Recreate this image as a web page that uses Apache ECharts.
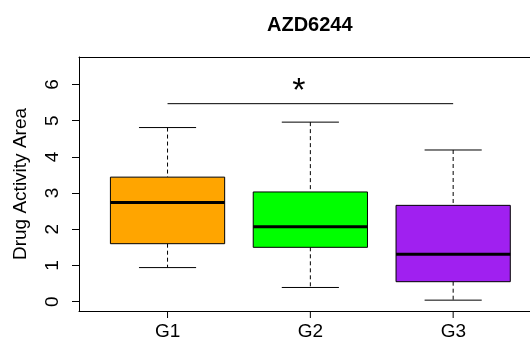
<!DOCTYPE html>
<html>
<head>
<meta charset="utf-8">
<script src="https://cdn.jsdelivr.net/npm/echarts@6/dist/echarts.min.js"></script>
<style>
html,body{margin:0;padding:0;background:#fff;}
#chart{width:530px;height:342px;}
</style>
</head>
<body>
<div id="chart"></div>
<script>
// ---- data ----
const categories = ['G1', 'G2', 'G3'];
const whiskerLow = [0.94, 0.39, 0.04];
const q1Values = [1.60, 1.50, 0.55];
const medianValues = [2.74, 2.07, 1.31];
const q3Values = [3.44, 3.03, 2.66];
const whiskerHigh = [4.81, 4.96, 4.19];
const boxColors = ['#FFA500', '#00FF00', '#A020F0'];
const yTicks = [0, 1, 2, 3, 4, 5, 6];
const sigFrom = 1, sigTo = 3, sigY = 5.47, sigStarX = 1.92, sigStarY = 5.81, sigLabel = '*';
const chartTitle = 'AZD6244';
const yName = 'Drug Activity Area';

const FONT = 'Liberation Sans, Arial, Helvetica, sans-serif';

const boxData = categories.map((c, i) => [i + 1, whiskerLow[i], q1Values[i], medianValues[i], q3Values[i], whiskerHigh[i]]);

function renderBox(params, api) {
  const i = params.dataIndex;
  const x = api.value(0);
  const half = 0.4, capHalf = 0.2;
  const pLow = api.coord([x, api.value(1)]);
  const pQ1 = api.coord([x, api.value(2)]);
  const pQ3 = api.coord([x, api.value(4)]);
  const pHigh = api.coord([x, api.value(5)]);
  const tl = api.coord([x - half, api.value(4)]);
  const br = api.coord([x + half, api.value(2)]);
  const mL = api.coord([x - half, api.value(3)]);
  const mR = api.coord([x + half, api.value(3)]);
  const cLL = api.coord([x - capHalf, api.value(1)]);
  const cLR = api.coord([x + capHalf, api.value(1)]);
  const cHL = api.coord([x - capHalf, api.value(5)]);
  const cHR = api.coord([x + capHalf, api.value(5)]);
  const axisBottom = params.coordSys.y + params.coordSys.height;
  const dash = {stroke: '#000', lineWidth: 1, lineDash: [4, 3]};
  const solid = {stroke: '#000', lineWidth: 1};
  return {
    type: 'group',
    children: [
      {type: 'line', shape: {x1: pHigh[0], y1: pHigh[1], x2: pQ3[0], y2: pQ3[1]}, style: dash},
      {type: 'line', shape: {x1: pQ1[0], y1: pQ1[1], x2: pLow[0], y2: pLow[1]}, style: dash},
      {type: 'line', shape: {x1: cHL[0], y1: cHL[1], x2: cHR[0], y2: cHR[1]}, style: solid},
      {type: 'line', shape: {x1: cLL[0], y1: cLL[1], x2: cLR[0], y2: cLR[1]}, style: solid},
      {type: 'rect', shape: {x: tl[0], y: tl[1], width: br[0] - tl[0], height: br[1] - tl[1]},
        style: {fill: boxColors[i], stroke: '#000', lineWidth: 1}},
      {type: 'line', shape: {x1: mL[0], y1: mL[1], x2: mR[0], y2: mR[1]}, style: {stroke: '#000', lineWidth: 3}},
      // category tick below the x axis line
      {type: 'line', shape: {x1: pLow[0], y1: axisBottom, x2: pLow[0], y2: axisBottom + 7}, style: solid}
    ]
  };
}

function renderSig(params, api) {
  const a = api.coord([api.value(0), api.value(2)]);
  const b = api.coord([api.value(1), api.value(2)]);
  const s = api.coord([api.value(3), api.value(4)]);
  return {
    type: 'group',
    children: [
      {type: 'line', shape: {x1: a[0], y1: a[1], x2: b[0], y2: b[1]}, style: {stroke: '#000', lineWidth: 1}},
      {type: 'text', x: s[0], y: s[1], style: {text: sigLabel, font: '34px ' + FONT, fill: '#000', align: 'center', verticalAlign: 'middle'}}
    ]
  };
}

const chart = echarts.init(document.getElementById('chart'), null, {renderer: 'canvas'});
chart.setOption({
  animation: false,
  backgroundColor: '#fff',
  title: {
    text: chartTitle,
    left: 267, top: 15, padding: 0,
    textStyle: {fontFamily: FONT, fontSize: 20, fontWeight: 'bold', color: '#000'}
  },
  grid: [
    {left: 79, top: 57, right: 0, height: 254, show: false},
    // category band grid: G1..G3 centres spaced exactly like the value axis units
    {left: 96.3, top: 57, width: 428.4, height: 254, show: false}
  ],
  xAxis: [{
    gridIndex: 0, type: 'value', min: 0.38, max: 3.538, position: 'bottom',
    splitLine: {show: false},
    axisLine: {show: true, onZero: false, lineStyle: {color: '#000', width: 1}},
    axisTick: {show: false}, axisLabel: {show: false}
  }, {
    gridIndex: 0, type: 'value', min: 0.38, max: 3.538, position: 'top',
    splitLine: {show: false},
    axisLine: {show: true, onZero: false, lineStyle: {color: '#000', width: 1}},
    axisTick: {show: false}, axisLabel: {show: false}
  }, {
    gridIndex: 1, type: 'category', data: categories, boundaryGap: true, position: 'bottom',
    axisLine: {show: false, onZero: false},
    splitLine: {show: false},
    axisTick: {show: false},
    axisLabel: {show: true, interval: 0, margin: 11, fontFamily: FONT, fontSize: 19, color: '#000'}
  }],
  yAxis: [{
    gridIndex: 0, type: 'value', min: -0.26, max: 6.76,
    splitLine: {show: false},
    axisLine: {show: true, onZero: false, lineStyle: {color: '#000', width: 1}},
    axisTick: {show: true, interval: 0, customValues: yTicks, length: 7, lineStyle: {color: '#000'}},
    axisLabel: {show: true, interval: 0, customValues: yTicks, rotate: 90, margin: 17, fontFamily: FONT, fontSize: 19, color: '#000',
      formatter: v => String(Math.round(v))},
    name: yName, nameLocation: 'middle', nameRotate: 90, nameGap: 49,
    nameTextStyle: {fontFamily: FONT, fontSize: 19, color: '#000'}
  }, {
    gridIndex: 1, type: 'value', min: -0.26, max: 6.76, show: false
  }],
  series: [
    {type: 'custom', xAxisIndex: 0, yAxisIndex: 0, renderItem: renderBox, data: boxData, clip: false,
      encode: {x: 0, y: [1, 5]}},
    {type: 'custom', xAxisIndex: 0, yAxisIndex: 0, renderItem: renderSig, data: [[sigFrom, sigTo, sigY, sigStarX, sigStarY]], clip: false,
      encode: {x: [0, 1], y: 2}}
  ]
});
</script>
</body>
</html>
